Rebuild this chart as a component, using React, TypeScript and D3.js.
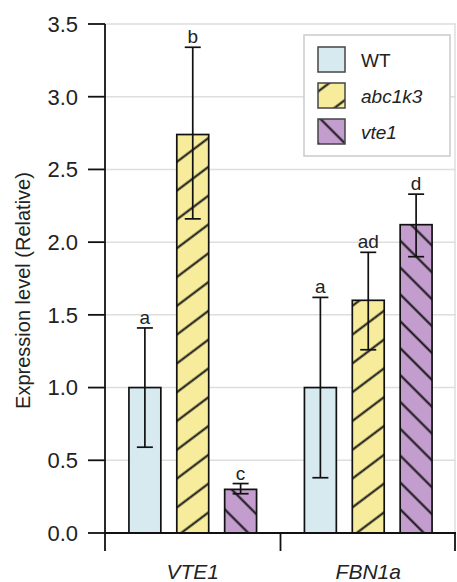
import React, { useEffect, useRef } from 'react';
import * as d3 from 'd3';

const genes = ['VTE1', 'FBN1a'];
const lines = ['WT', 'abc1k3', 'vte1'];
const means = [
  [1.0, 2.74, 0.30],
  [1.0, 1.60, 2.12],
];
const errLow = [
  [0.59, 2.16, 0.27],
  [0.38, 1.26, 1.90],
];
const errHigh = [
  [1.41, 3.34, 0.34],
  [1.62, 1.93, 2.33],
];
const letters = [
  ['a', 'b', 'c'],
  ['a', 'ad', 'd'],
];
const yTicks = [0, 0.5, 1.0, 1.5, 2.0, 2.5, 3.0, 3.5];

const fills = ['#d6eaf0', '#f6ec9c', '#c39dce'];
const FONT = 'Liberation Sans, Arial, sans-serif';

export default function App() {
  const svgRef = useRef<SVGSVGElement>(null);

  useEffect(() => {
    document.body.style.margin = '0';
    const width = 457;
    const height = 582;
    const margin = { top: 24, right: 1, bottom: 49, left: 105 };

    const svg = d3.select(svgRef.current);
    svg.selectAll('*').remove();

    const defs = svg.append('defs');
    // hatch patterns
    const hatch = (id: string, color: string, angle: number, gap: number) => {
      const p = defs.append('pattern')
        .attr('id', id)
        .attr('patternUnits', 'userSpaceOnUse')
        .attr('width', 40)
        .attr('height', gap)
        .attr('patternTransform', `rotate(${angle})`);
      p.append('rect').attr('width', 40).attr('height', gap).attr('fill', color);
      p.append('line')
        .attr('x1', 0).attr('x2', 40)
        .attr('y1', gap / 2).attr('y2', gap / 2)
        .attr('stroke', '#111').attr('stroke-width', 1.8);
    };
    hatch('hatch-yellow', fills[1], -37, 23);
    hatch('hatch-purple', fills[2], 45, 19);
    const fillFor = (i: number) => i === 0 ? fills[0] : i === 1 ? 'url(#hatch-yellow)' : 'url(#hatch-purple)';

    const x0 = d3.scaleBand()
      .domain(genes)
      .range([margin.left, width - margin.right]);
    const x1 = d3.scaleBand()
      .domain(lines)
      .range([0, x0.bandwidth()])
      .paddingInner(1 / 3)
      .paddingOuter(0.5);
    const y = d3.scaleLinear()
      .domain([0, 3.5])
      .range([height - margin.bottom, margin.top]);

    const right = width - margin.right;

    // grid
    svg.append('g')
      .selectAll('line')
      .data(yTicks.slice(1))
      .join('line')
      .attr('x1', margin.left).attr('x2', right)
      .attr('y1', d => y(d)).attr('y2', d => y(d))
      .attr('stroke', '#dedede').attr('stroke-width', 1.5);
    svg.append('line')
      .attr('x1', right - 1).attr('x2', right - 1)
      .attr('y1', y(3.5)).attr('y2', y(0))
      .attr('stroke', '#dedede').attr('stroke-width', 1.5);

    // bars
    const groups = svg.append('g')
      .selectAll('g')
      .data(genes)
      .join('g')
      .attr('transform', d => `translate(${x0(d)},0)`);

    groups.each(function (g, gi) {
      const sel = d3.select(this);
      lines.forEach((l, li) => {
        const bx = x1(l)!;
        const bw = x1.bandwidth();
        const cx = bx + bw / 2;
        sel.append('rect')
          .attr('x', bx).attr('width', bw)
          .attr('y', y(means[gi][li]))
          .attr('height', y(0) - y(means[gi][li]))
          .attr('fill', fillFor(li))
          .attr('stroke', '#111').attr('stroke-width', 1.7);
        const lo = y(errLow[gi][li]);
        const hi = y(errHigh[gi][li]);
        sel.append('line')
          .attr('x1', cx).attr('x2', cx).attr('y1', lo).attr('y2', hi)
          .attr('stroke', '#111').attr('stroke-width', 1.7);
        [lo, hi].forEach(v => {
          sel.append('line')
            .attr('x1', cx - 8).attr('x2', cx + 8).attr('y1', v).attr('y2', v)
            .attr('stroke', '#111').attr('stroke-width', 1.7);
        });
        sel.append('text')
          .attr('x', cx).attr('y', hi - 4)
          .attr('text-anchor', 'middle')
          .attr('font-family', FONT).attr('font-size', 19)
          .attr('fill', '#222')
          .text(letters[gi][li]);
      });
    });

    // y axis
    const yAxis = svg.append('g');
    yAxis.append('line')
      .attr('x1', margin.left).attr('x2', margin.left)
      .attr('y1', y(3.5)).attr('y2', y(0) + 18)
      .attr('stroke', '#111').attr('stroke-width', 1.8);
    yAxis.selectAll('.tick')
      .data(yTicks)
      .join('g')
      .each(function (d) {
        const t = d3.select(this);
        t.append('line')
          .attr('x1', margin.left - 17).attr('x2', margin.left)
          .attr('y1', y(d)).attr('y2', y(d))
          .attr('stroke', '#111').attr('stroke-width', 1.8);
        t.append('text')
          .attr('x', margin.left - 27).attr('y', y(d))
          .attr('dy', '0.36em')
          .attr('text-anchor', 'end')
          .attr('font-family', FONT).attr('font-size', 22)
          .attr('fill', '#222')
          .text(d3.format('.1f')(d));
      });

    // x axis
    svg.append('line')
      .attr('x1', margin.left).attr('x2', right)
      .attr('y1', y(0)).attr('y2', y(0))
      .attr('stroke', '#111').attr('stroke-width', 1.8);
    genes.forEach(g => {
      const sx = x0(g)! + x0.bandwidth();
      svg.append('line')
        .attr('x1', Math.min(sx, right - 1)).attr('x2', Math.min(sx, right - 1))
        .attr('y1', y(0)).attr('y2', y(0) + 18)
        .attr('stroke', '#111').attr('stroke-width', 1.8);
      svg.append('text')
        .attr('x', x0(g)! + x0.bandwidth() / 2)
        .attr('y', y(0) + 46)
        .attr('text-anchor', 'middle')
        .attr('font-family', FONT).attr('font-size', 21)
        .attr('font-style', 'italic')
        .attr('fill', '#222')
        .text(g);
    });

    // axis title
    svg.append('text')
      .attr('transform', `translate(30,${(y(0) + y(3.5)) / 2 + 12}) rotate(-90)`)
      .attr('text-anchor', 'middle')
      .attr('font-family', FONT).attr('font-size', 20)
      .attr('fill', '#222')
      .text('Expression level (Relative)');

    // legend
    const lg = svg.append('g');
    lg.append('rect')
      .attr('x', 304).attr('y', 35).attr('width', 146).attr('height', 121)
      .attr('fill', '#fff').attr('stroke', '#cacaca').attr('stroke-width', 1.5);
    lines.forEach((l, i) => {
      const ry = 47 + i * 36;
      lg.append('rect')
        .attr('x', 318).attr('y', ry).attr('width', 27).attr('height', 25)
        .attr('fill', fillFor(i))
        .attr('stroke', '#444').attr('stroke-width', 1.5);
      lg.append('text')
        .attr('x', 361).attr('y', ry + 20)
        .attr('font-family', FONT).attr('font-size', 19)
        .attr('font-style', i === 0 ? 'normal' : 'italic')
        .attr('fill', '#222')
        .text(l);
    });
  }, []);

  return (
    <div>
      <svg ref={svgRef} width={457} height={582} style={{ display: 'block' }} />
    </div>
  );
}
